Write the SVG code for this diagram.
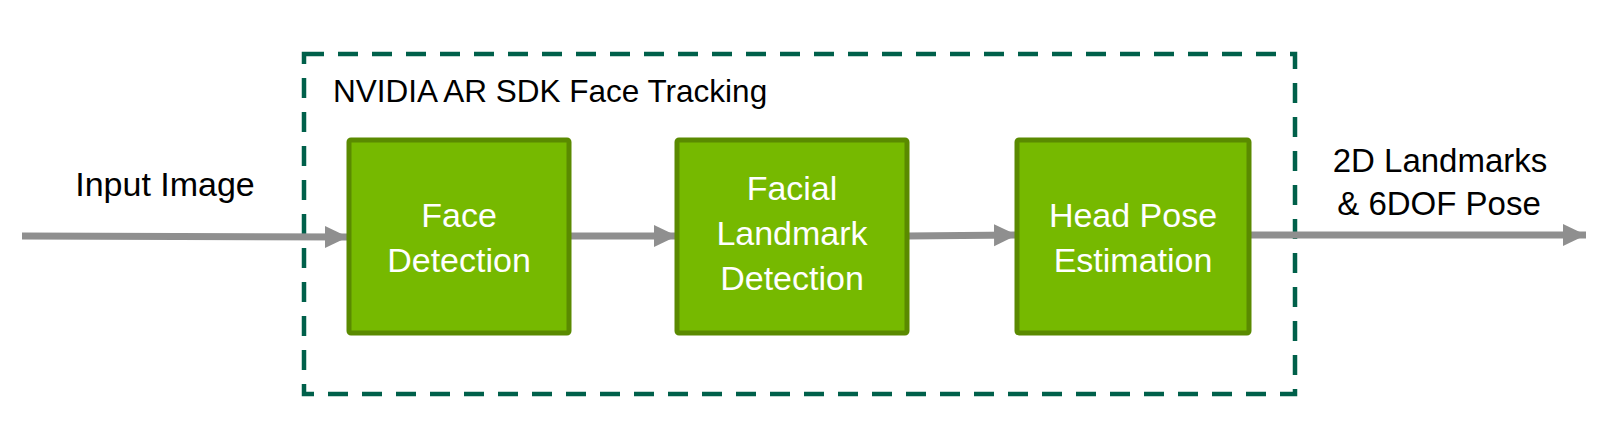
<svg xmlns="http://www.w3.org/2000/svg" width="1602" height="444" viewBox="0 0 1602 444">
<style>
.lbl{font-family:"Liberation Sans",Arial,sans-serif;font-size:33px;fill:#000}
.box{fill:#76B900;stroke:#5A8A00;stroke-width:5}
.btxt{font-family:"Liberation Sans",Arial,sans-serif;font-size:34px;fill:#fff;text-anchor:middle}
.conn{stroke:#8F8F8F;stroke-width:7;fill:none}
</style>
<defs>
<marker id="ah" markerUnits="userSpaceOnUse" markerWidth="24" markerHeight="24" refX="23" refY="12" orient="auto">
<path d="M0,1 L23,12 L0,23 Z" fill="#8F8F8F"/>
</marker>
</defs>
<rect x="0" y="0" width="1602" height="444" fill="#fff"/>
<g id="container">
<rect x="304" y="54" width="991" height="340" fill="none" stroke="#00604A" stroke-width="4.5" stroke-dasharray="20 14"/>
<text class="lbl" x="333" y="102" style="font-size:31.5px">NVIDIA AR SDK Face Tracking</text>
</g>
<g id="connectors">
<line class="conn" x1="22" y1="236" x2="348" y2="237" marker-end="url(#ah)"/>
<line class="conn" x1="569" y1="236" x2="677" y2="236" marker-end="url(#ah)"/>
<line class="conn" x1="907" y1="236" x2="1017" y2="235" marker-end="url(#ah)"/>
<line class="conn" x1="1249" y1="235" x2="1586" y2="235" marker-end="url(#ah)"/>
</g>
<g id="input-label"><text class="lbl" x="165" y="196" text-anchor="middle" style="font-size:34px">Input Image</text></g>
<g id="output-label">
<text class="lbl" x="1440" y="172" text-anchor="middle">2D Landmarks</text>
<text class="lbl" x="1439" y="215" text-anchor="middle">&amp; 6DOF Pose</text>
</g>
<g id="face-detection">
<rect class="box" x="349" y="140" width="220" height="193" rx="2"/>
<text class="btxt" x="459" y="227">Face</text>
<text class="btxt" x="459" y="272">Detection</text>
</g>
<g id="facial-landmark-detection">
<rect class="box" x="677" y="140" width="230" height="193" rx="2"/>
<text class="btxt" x="792" y="200">Facial</text>
<text class="btxt" x="792" y="245">Landmark</text>
<text class="btxt" x="792" y="290">Detection</text>
</g>
<g id="head-pose-estimation">
<rect class="box" x="1017" y="140" width="232" height="193" rx="2"/>
<text class="btxt" x="1133" y="227">Head Pose</text>
<text class="btxt" x="1133" y="272">Estimation</text>
</g>
</svg>
